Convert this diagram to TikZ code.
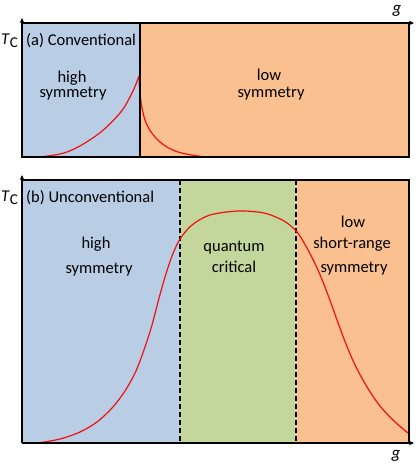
\documentclass[tikz,border=0pt]{standalone}
\usepackage{fontspec}
\setmainfont{Carlito}
\usetikzlibrary{arrows.meta}
\definecolor{pblue}{HTML}{B9CDE5}
\definecolor{porange}{HTML}{FAC090}
\definecolor{pgreen}{HTML}{C3D69B}
\definecolor{pred}{HTML}{F01010}
\begin{document}
\begin{tikzpicture}[x=1pt,y=-1pt,
  lbl/.style={font=\fontsize{16.5}{18}\selectfont, inner sep=0pt, anchor=base},
  axlbl/.style={font=\fontsize{17}{18}\selectfont, inner sep=0pt},
  curve/.style={pred, line width=1.2pt},
  frame/.style={line width=1.3pt, line cap=rect},
  axarrow/.style={-{Stealth[length=5pt,width=4.5pt]}, line width=1.3pt},
  sep/.style={line width=1.3pt, dash pattern=on 5pt off 3pt}]
\useasboundingbox (0,0) rectangle (415,471);

% ---------- panel (a)
\fill[pblue] (22,23) rectangle (140,157);
\fill[porange] (140,23) rectangle (409,157);
\draw[curve] plot[smooth, tension=0.6] coordinates {(38,157) (67,152) (97,135) (120,113) (132,93) (139,76)};
\draw[curve] plot[smooth, tension=0.6] coordinates {(139,78) (141,102) (147,125) (160,142) (178,152) (205,157)};
\draw[frame] (140,23) -- (140,157);
\draw[frame] (22,157) -- (409,157) -- (409,23);
\draw[axarrow] (22,157) -- (22,18);
\draw[axarrow] (22,23) -- (414,23);
\node[lbl, anchor=base east] (tca) at (18,44) {\textit{T}\raisebox{-0.45ex}{\fontsize{15}{16}\selectfont C}};
\node[axlbl] (ga) at (397,11) {\textit{g}};
\node[lbl, anchor=base west] (titlea) at (26,45) {(a) Conventional};
\node[lbl] (ahigh1) at (72,82) {high};
\node[lbl] (ahigh2) at (73,97) {symmetry};
\node[lbl] (alow1) at (269,80) {low};
\node[lbl] (alow2) at (271,97) {symmetry};

% ---------- panel (b)
\fill[pblue] (22,180) rectangle (180,443);
\fill[pgreen] (180,180) rectangle (296,443);
\fill[porange] (296,180) rectangle (409,443);
\draw[sep] (180,180) -- (180,443);
\draw[sep] (296,180) -- (296,443);
\draw[curve] plot[smooth, tension=0.5] coordinates {(38,443) (60,439) (80,432) (97,422) (112,408) (125,391) (136,371) (145,347) (152,325) (158,302) (165,277) (172,256) (180,239) (192,225) (210,215) (238,211) (264,213) (284,221) (297,232) (307,248) (318,270) (328,295) (337,320) (346,344) (355,365) (367,387) (380,406) (394,421) (408,433)};
\draw[frame] (22,180) -- (409,180) -- (409,443);
\draw[axarrow] (22,443) -- (22,175);
\draw[axarrow] (22,443) -- (414,443);
\node[lbl, anchor=base east] (tcb) at (18,201) {\textit{T}\raisebox{-0.45ex}{\fontsize{15}{16}\selectfont C}};
\node[axlbl] (gb) at (396,456) {\textit{g}};
\node[lbl, anchor=base west] (titleb) at (26,202) {(b) Unconventional};
\node[lbl] (bhigh1) at (96,248) {high};
\node[lbl] (bhigh2) at (99,273) {symmetry};
\node[lbl] (bqc1) at (234,251) {quantum};
\node[lbl] (bqc2) at (234,272) {critical};
\node[lbl] (blow1) at (353,227) {low};
\node[lbl] (blow2) at (352,248) {short-range};
\node[lbl] (blow3) at (354,272) {symmetry};
\end{tikzpicture}
\end{document}
